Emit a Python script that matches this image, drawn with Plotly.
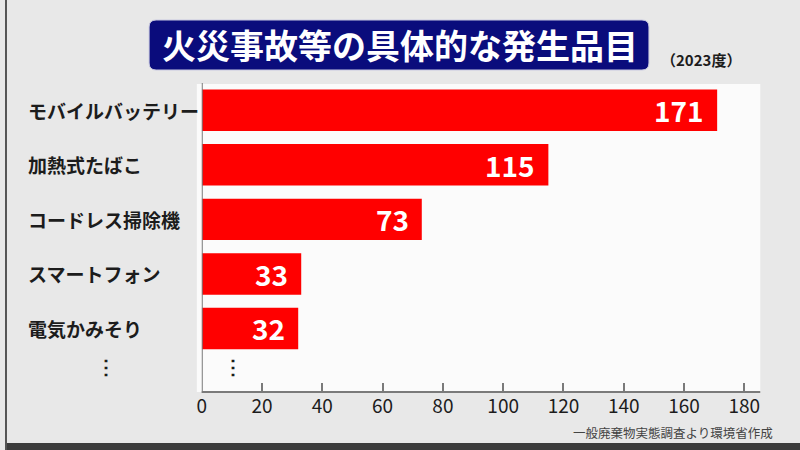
import plotly.graph_objects as go

categories = ["モバイルバッテリー", "加熱式たばこ", "コードレス掃除機", "スマートフォン", "電気かみそり"]
values = [171, 115, 73, 33, 32]
tick_vals = [0, 20, 40, 60, 80, 100, 120, 140, 160, 180]
title_text = "火災事故等の具体的な発生品目"
year_text = "（2023度）"
source_text = "一般廃棄物実態調査より環境省作成"

W, H = 800, 450
def px(x):
    return x / W
def py(y):
    return 1 - y / H

JP = "Noto Sans CJK JP"

fig = go.Figure()
fig.add_trace(go.Bar(
    x=values, y=categories, orientation="h",
    marker=dict(color="#ff0000", line=dict(width=0)),
    hoverinfo="skip",
))

annotations = []
# category labels left-aligned
for c in categories:
    annotations.append(dict(
        x=px(21), xref="paper", y=c, yref="y", text=c, showarrow=False,
        xanchor="left", yanchor="middle",
        font=dict(family=JP, size=19, color="#1c1c1c", weight="bold"),
    ))
# value labels inside bar ends
for c, v in zip(categories, values):
    annotations.append(dict(
        x=v, xref="x", y=c, yref="y", text=str(v), showarrow=False,
        xanchor="right", yanchor="middle", xshift=-11,
        font=dict(family=JP, size=28, color="white", weight="bold"),
    ))
# vertical ellipsis markers
annotations.append(dict(x=px(102), xref="paper", y=4.68, yref="y", text="⋮", showarrow=False,
                        xanchor="center", yanchor="middle",
                        font=dict(family=JP, size=20, color="#1c1c1c", weight="bold")))
annotations.append(dict(x=10.5, xref="x", y=4.68, yref="y", text="⋮", showarrow=False,
                        xanchor="center", yanchor="middle",
                        font=dict(family=JP, size=20, color="#1c1c1c", weight="bold")))
# title
annotations.append(dict(x=px(397), xref="paper", y=py(45), yref="paper", text=title_text, showarrow=False,
                        xanchor="center", yanchor="middle",
                        font=dict(family=JP, size=34, color="white", weight="bold")))
annotations.append(dict(x=px(743), xref="paper", y=py(60), yref="paper", text=year_text, showarrow=False,
                        xanchor="right", yanchor="middle",
                        font=dict(family=JP, size=15, color="#1c1c1c", weight="bold")))
annotations.append(dict(x=px(775), xref="paper", y=py(432), yref="paper", text=source_text, showarrow=False,
                        xanchor="right", yanchor="middle",
                        font=dict(family=JP, size=12.5, color="#444444")))

# rounded title box path
x0, x1, y0, y1, r = 145, 648, 20, 70, 7
path = (f"M {px(x0+r)},{py(y0)} L {px(x1-r)},{py(y0)} Q {px(x1)},{py(y0)} {px(x1)},{py(y0+r)} "
        f"L {px(x1)},{py(y1-r)} Q {px(x1)},{py(y1)} {px(x1-r)},{py(y1)} "
        f"L {px(x0+r)},{py(y1)} Q {px(x0)},{py(y1)} {px(x0)},{py(y1-r)} "
        f"L {px(x0)},{py(y0+r)} Q {px(x0)},{py(y0)} {px(x0+r)},{py(y0)} Z")

shapes = [
    dict(type="rect", xref="paper", yref="paper", x0=px(193), x1=px(760), y0=py(392), y1=py(84),
         fillcolor="#fbfbfb", line=dict(width=0), layer="below"),
    dict(type="path", xref="paper", yref="paper", path=path,
         fillcolor="#0a0c7c", line=dict(color="#c8c8e0", width=1), layer="below"),
    dict(type="rect", xref="paper", yref="paper", x0=0, x1=1, y0=0, y1=py(443),
         fillcolor="#3c3c3c", line=dict(width=0), layer="below"),
    dict(type="rect", xref="paper", yref="paper", x0=0, x1=px(2), y0=0, y1=1,
         fillcolor="#555555", line=dict(width=0), layer="below"),
    # axis lines
    dict(type="line", xref="x", yref="paper", x0=0, x1=0, y0=py(393), y1=py(83),
         line=dict(color="#7a7a7a", width=2), layer="above"),
    dict(type="line", xref="paper", yref="paper", x0=px(198), x1=px(760), y0=py(392), y1=py(392),
         line=dict(color="#7a7a7a", width=2), layer="above"),
]

fig.update_layout(
    width=W, height=H,
    margin=dict(l=0, r=0, t=0, b=0),
    paper_bgcolor="#e8e8e8",
    plot_bgcolor="rgba(0,0,0,0)",
    showlegend=False,
    bargap=0.24,
    annotations=annotations,
    shapes=shapes,
    xaxis=dict(
        domain=[px(198), px(760)], range=[0, 185.3],
        tickmode="array", tickvals=tick_vals, ticktext=[str(t) for t in tick_vals],
        ticks="inside", ticklen=9, tickwidth=1.5, tickcolor="#7a7a7a",
        showline=False,
        showgrid=False, zeroline=False,
        tickfont=dict(family=JP, size=19, color="#1c1c1c"),
        ticklabelstandoff=1,
        fixedrange=True,
    ),
    yaxis=dict(
        domain=[py(392), py(83)],
        categoryorder="array", categoryarray=categories,
        range=[5.165, -0.5],
        showticklabels=False, ticks="",
        showline=False,
        showgrid=False, zeroline=False,
        fixedrange=True,
    ),
)

fig.write_html("out.html")
